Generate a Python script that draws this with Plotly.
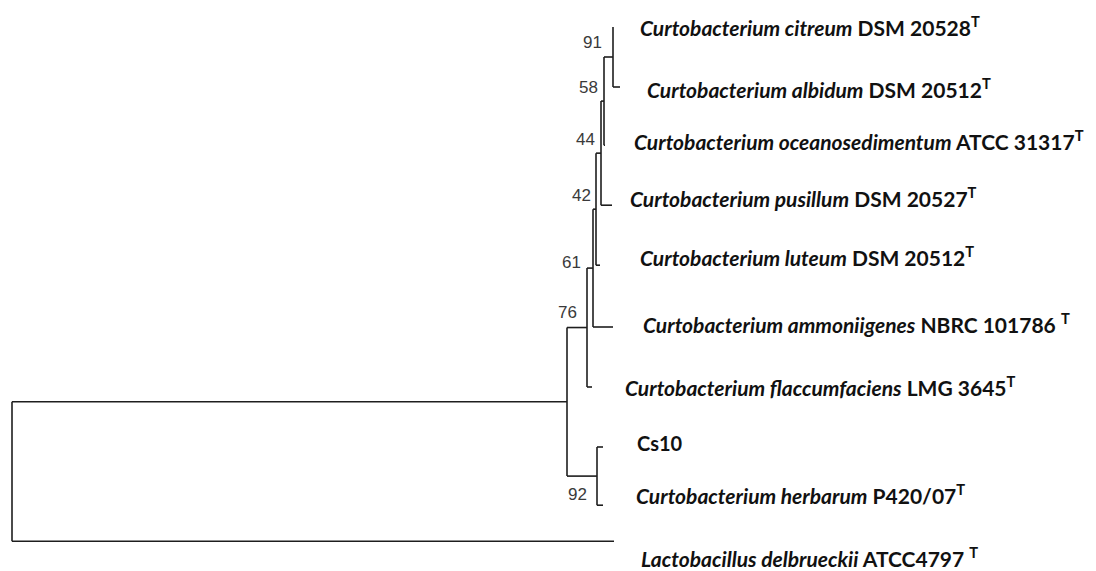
import plotly.graph_objects as go

# ---------------- data ----------------
# tree edges: (parent, child, branch length)
edges = [
    ("root", "G", 0.555),
    ("root", "lacto", 0.602),
    ("G", "F", 0.020),
    ("G", "H", 0.030),
    ("F", "E", 0.006),
    ("F", "flacc", 0.005),
    ("E", "D", 0.003),
    ("E", "ammon", 0.020),
    ("D", "C", 0.005),
    ("D", "luteum", 0.004),
    ("C", "B", 0.003),
    ("C", "pusillum", 0.011),
    ("B", "A", 0.009),
    ("B", "oceano", 0.001),
    ("A", "citreum", 0.000),
    ("A", "albidum", 0.007),
    ("H", "cs10", 0.006),
    ("H", "herbarum", 0.006),
]

leaves = ["citreum", "albidum", "oceano", "pusillum", "luteum",
          "ammon", "flacc", "cs10", "herbarum", "lacto"]
leaf_rows = [0, 1, 1.97, 2.97, 3.97, 5.0, 6.0, 7.0, 7.97, 8.57]
leaf_labels = [
    "<b><i>Curtobacterium citreum</i> DSM 20528<sup>T</sup></b>",
    "<b><i>Curtobacterium albidum</i> DSM 20512<sup>T</sup></b>",
    "<b><i>Curtobacterium oceanosedimentum</i> ATCC 31317<sup>T</sup></b>",
    "<b><i>Curtobacterium pusillum</i> DSM 20527<sup>T</sup></b>",
    "<b><i>Curtobacterium luteum</i> DSM 20512<sup>T</sup></b>",
    "<b><i>Curtobacterium ammoniigenes</i> NBRC 101786 <sup>T</sup></b>",
    "<b><i>Curtobacterium flaccumfaciens</i> LMG 3645<sup>T</sup></b>",
    "<b>Cs10</b>",
    "<b><i>Curtobacterium herbarum</i> P420/07<sup>T</sup></b>",
    "<b><i>Lactobacillus delbrueckii</i> ATCC4797 <sup>T</sup></b>",
]

boot_nodes = ["A", "B", "C", "D", "E", "F", "H"]
boot_values = [91, 58, 44, 42, 61, 76, 92]

# ---------------- layout helpers (pixel nudges for labels) ----------------
label_nudge = {  # (dx, dy) in pixels
    "citreum": (25, -1), "albidum": (25, 1), "oceano": (27, -5),
    "pusillum": (16, -8), "luteum": (38, -9), "ammon": (28, -4),
    "flacc": (31, -1), "cs10": (32, -4), "herbarum": (31, -11),
    "lacto": (25, 16),
}
label_size = {"cs10": 20}
boot_nudge = {  # (dx, dy) in pixels, label right edge relative to node
    "A": (-9, -15), "B": (-4, -14), "C": (-4, -14), "D": (-3, -14),
    "E": (-10, -6), "F": (-8, -15), "H": (-8, 18),
}

# ---------------- tree geometry from data ----------------
children = {}
blen = {}
for p, c, l in edges:
    children.setdefault(p, []).append(c)
    blen[c] = l

depth = {"root": 0.0}
def set_depth(n):
    for c in children.get(n, []):
        depth[c] = depth[n] + blen[c]
        set_depth(c)
set_depth("root")

ypos = dict(zip(leaves, leaf_rows))
def set_y(n):
    if n in ypos:
        return ypos[n]
    ys = [set_y(c) for c in children[n]]
    ypos[n] = (min(ys) + max(ys)) / 2
    return ypos[n]
set_y("root")

xs, ys = [], []
for n, ch in children.items():
    cy = [ypos[c] for c in ch]
    xs += [depth[n], depth[n], None]
    ys += [min(cy), max(cy), None]
    for c in ch:
        xs += [depth[n], depth[c], None]
        ys += [ypos[c], ypos[c], None]

fig = go.Figure()
fig.add_trace(go.Scatter(x=xs, y=ys, mode="lines",
                         line=dict(color="#1e1e1e", width=1.6),
                         hoverinfo="skip", showlegend=False))

annotations = []
for name, lab in zip(leaves, leaf_labels):
    dx, dy = label_nudge[name]
    annotations.append(dict(
        x=depth[name], y=ypos[name], xref="x", yref="y", text=lab,
        showarrow=False, xanchor="left", yanchor="middle",
        xshift=dx, yshift=-dy,
        font=dict(family="Lato, Open Sans, sans-serif",
                  size=label_size.get(name, 21), color="#111111")))
for node, val in zip(boot_nodes, boot_values):
    dx, dy = boot_nudge[node]
    annotations.append(dict(
        x=depth[node], y=ypos[node], xref="x", yref="y", text=str(val),
        showarrow=False, xanchor="right", yanchor="middle",
        xshift=dx, yshift=-dy,
        font=dict(family="Liberation Sans, Arial, sans-serif", size=17, color="#3a3a3a")))

# page has an 8px body margin: figure is 1088x563, axes aligned to page pixels
fig.update_layout(
    width=1088, height=563,
    margin=dict(l=0, r=0, t=0, b=0),
    paper_bgcolor="white", plot_bgcolor="white",
    xaxis=dict(range=[-0.004, 1.084], visible=False, fixedrange=True),
    yaxis=dict(range=[(571 - 27) / 60, (8 - 27) / 60], visible=False, fixedrange=True),
    annotations=annotations,
    showlegend=False,
)

fig.write_html("out.html")
